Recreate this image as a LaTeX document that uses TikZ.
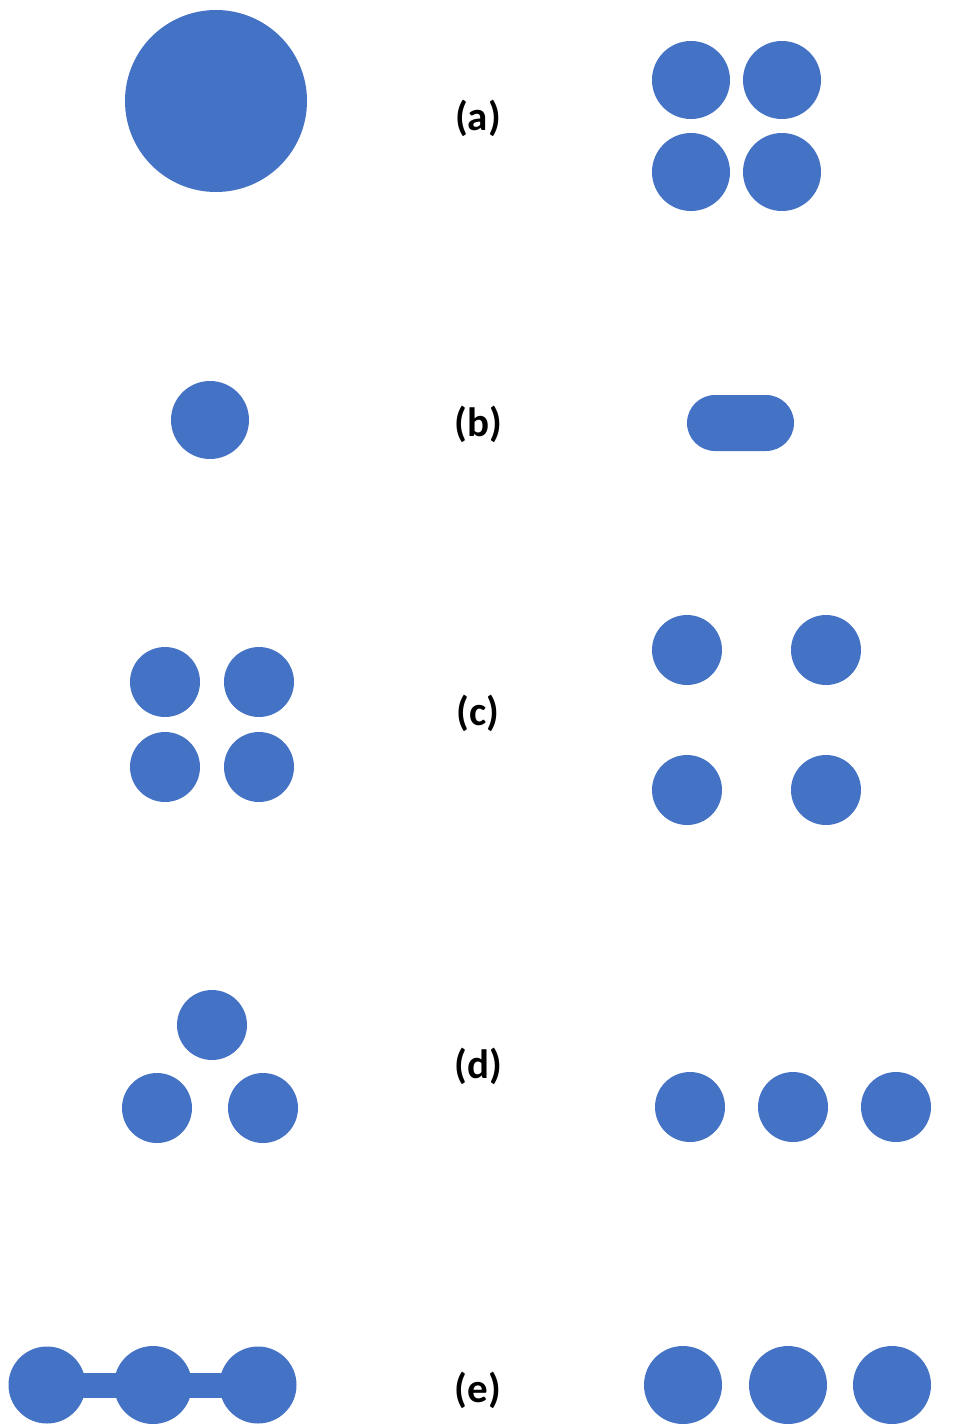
\documentclass[tikz,border=0pt]{standalone}
\usepackage{fontspec}
\setmainfont{Carlito}
\usetikzlibrary{shapes.misc}
\definecolor{dotblue}{HTML}{4472C4}
\tikzset{
  dot/.style={circle,fill=dotblue,draw=none,inner sep=0pt,minimum size=#1},
  dot/.default=70pt,
  lbl/.style={font=\fontsize{41}{48}\selectfont\bfseries,inner sep=0pt,anchor=center},
  bar/.style={draw=dotblue,line width=25pt},
  pill/.style={rounded rectangle,fill=dotblue,draw=none,inner sep=0pt,minimum width=107pt,minimum height=56pt}
}
\begin{document}
\begin{tikzpicture}[x=1pt,y=-1pt]
\useasboundingbox (0,0) rectangle (963,1427);
% (a)
\node[dot=182pt] (a0) at (216,101) {};
\node[dot=78pt] (a1) at (691,80) {};
\node[dot=78pt] (a2) at (782,80) {};
\node[dot=78pt] (a3) at (691,172) {};
\node[dot=78pt] (a4) at (782,172) {};
\node[lbl] (la) at (478,118) {(a)};
% (b)
\node[dot=78pt] (b0) at (210,420) {};
\node[pill] (b1) at (740.5,423) {};
\node[lbl] (lb) at (478,424) {(b)};
% (c)
\node[dot=70pt] (c1) at (165,682) {};
\node[dot=70pt] (c2) at (259,682) {};
\node[dot=70pt] (c3) at (165,767) {};
\node[dot=70pt] (c4) at (259,767) {};
\node[dot=70pt] (c5) at (687,650) {};
\node[dot=70pt] (c6) at (826,650) {};
\node[dot=70pt] (c7) at (687,790) {};
\node[dot=70pt] (c8) at (826,790) {};
\node[lbl] (lc) at (478,713) {(c)};
% (d)
\node[dot=70pt] (d1) at (212,1025) {};
\node[dot=70pt] (d2) at (157,1108) {};
\node[dot=70pt] (d3) at (263,1108) {};
\node[dot=70pt] (d4) at (690,1107) {};
\node[dot=70pt] (d5) at (793,1107) {};
\node[dot=70pt] (d6) at (896,1107) {};
\node[lbl] (ld) at (478,1066) {(d)};
% (e)
\coordinate (ec1) at (47,1385);
\coordinate (ec2) at (153,1385);
\coordinate (ec3) at (258,1385);
\draw[bar] (ec1) -- (ec2) -- (ec3);
\node[dot=77pt] (e1) at (ec1) {};
\node[dot=78pt] (e2) at (ec2) {};
\node[dot=77pt] (e3) at (ec3) {};
\node[dot=78pt] (e4) at (683,1385) {};
\node[dot=78pt] (e5) at (788,1385) {};
\node[dot=78pt] (e6) at (892,1385) {};
\node[lbl] (le) at (478,1390) {(e)};
\end{tikzpicture}
\end{document}
